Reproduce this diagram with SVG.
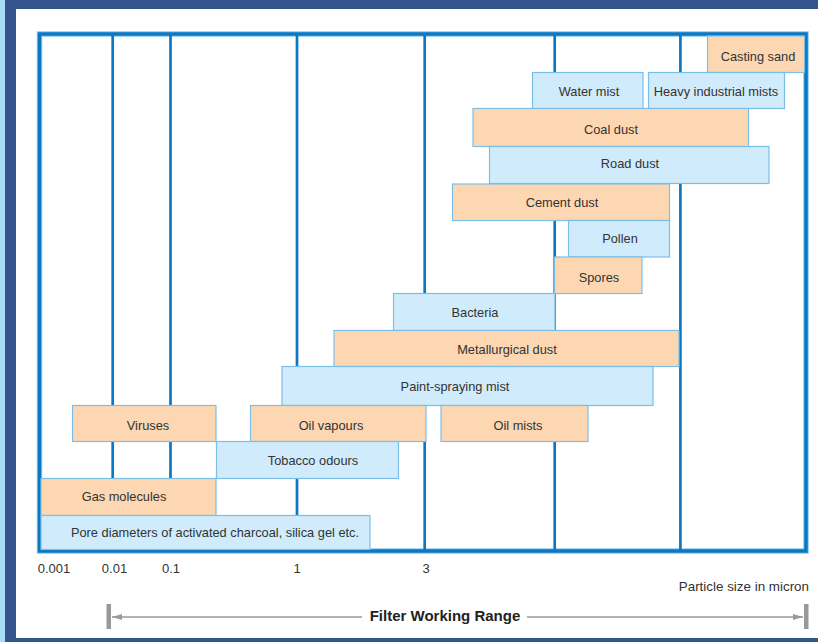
<svg xmlns="http://www.w3.org/2000/svg" width="818" height="642" viewBox="0 0 818 642">
<style>
.bar{stroke:#7cbfe6;stroke-width:1.2}
.o{fill:#fdd7b2}
.b{fill:#d0ebfb}
.lbl{font-family:"Liberation Sans",Arial,sans-serif;font-size:12.8px;fill:#333;text-anchor:middle}
.ax{font-family:"Liberation Sans",Arial,sans-serif;font-size:13px;fill:#333;text-anchor:middle}
.grid{stroke:#0a78c2;stroke-width:2.7}
</style>
<defs>
<marker id="ah" viewBox="0 0 10 6" refX="10" refY="3" markerWidth="10" markerHeight="6" markerUnits="userSpaceOnUse" orient="auto-start-reverse">
<path d="M0,0 L10,3 L0,6 z" fill="#999"/>
</marker>
</defs>
<rect width="818" height="642" fill="#fff"/>
<g id="page-frame">
<rect x="0" y="0" width="5" height="642" fill="#a9dcf6"/>
<rect x="5" y="0" width="11" height="642" fill="#34548c"/>
<rect x="5" y="0" width="813" height="9" fill="#34548c"/>
<rect x="5" y="638" width="813" height="4" fill="#34548c"/>
</g>
<g id="chart-frame">
<rect x="39.5" y="34" width="766.5" height="517" fill="none" stroke="#8cc8ec" stroke-width="5.5"/>
<rect x="39.5" y="34" width="766.5" height="517" fill="none" stroke="#0a78c2" stroke-width="3.5"/>
<line class="grid" x1="112.7" y1="34" x2="112.7" y2="551"/>
<line class="grid" x1="170.5" y1="34" x2="170.5" y2="551"/>
<line class="grid" x1="297" y1="34" x2="297" y2="551"/>
<line class="grid" x1="424.7" y1="34" x2="424.7" y2="551"/>
<line class="grid" x1="554.7" y1="34" x2="554.7" y2="551"/>
<line class="grid" x1="680.4" y1="34" x2="680.4" y2="551"/>
</g>
<g id="casting-sand"><rect class="bar o" x="707.5" y="36" width="97" height="36.5"/><text class="lbl" x="758" y="60.5">Casting sand</text></g>
<g id="water-mist"><rect class="bar b" x="532.5" y="72.5" width="110.5" height="36"/><text class="lbl" x="589" y="95.5">Water mist</text></g>
<g id="heavy-industrial-mists"><rect class="bar b" x="648.5" y="72.5" width="136" height="36"/><text class="lbl" x="716" y="95.5">Heavy industrial mists</text></g>
<g id="coal-dust"><rect class="bar o" x="473" y="108.5" width="275.5" height="38"/><text class="lbl" x="611" y="133.5">Coal dust</text></g>
<g id="road-dust"><rect class="bar b" x="489.5" y="146.5" width="279.5" height="37"/><text class="lbl" x="630" y="167.5">Road dust</text></g>
<g id="cement-dust"><rect class="bar o" x="452.5" y="184" width="217" height="36.5"/><text class="lbl" x="562" y="206.5">Cement dust</text></g>
<g id="pollen"><rect class="bar b" x="568.5" y="220.5" width="101" height="36.5"/><text class="lbl" x="620" y="242.5">Pollen</text></g>
<g id="spores"><rect class="bar o" x="554.5" y="257" width="87.5" height="36.5"/><text class="lbl" x="599" y="281.5">Spores</text></g>
<g id="bacteria"><rect class="bar b" x="393.5" y="293.5" width="161.5" height="37"/><text class="lbl" x="475" y="316.5">Bacteria</text></g>
<g id="metallurgical-dust"><rect class="bar o" x="334" y="330.5" width="345" height="36"/><text class="lbl" x="507" y="353.5">Metallurgical dust</text></g>
<g id="paint-spraying-mist"><rect class="bar b" x="282" y="366.5" width="371" height="39"/><text class="lbl" x="455" y="390.5">Paint-spraying mist</text></g>
<g id="viruses"><rect class="bar o" x="72.5" y="405.5" width="143.5" height="36"/><text class="lbl" x="148" y="429.5">Viruses</text></g>
<g id="oil-vapours"><rect class="bar o" x="250.5" y="405.5" width="175.5" height="36"/><text class="lbl" x="331" y="429.5">Oil vapours</text></g>
<g id="oil-mists"><rect class="bar o" x="441" y="405.5" width="147" height="36"/><text class="lbl" x="518" y="429.5">Oil mists</text></g>
<g id="tobacco-odours"><rect class="bar b" x="216.5" y="441.5" width="182" height="37"/><text class="lbl" x="313" y="464.5">Tobacco odours</text></g>
<g id="gas-molecules"><rect class="bar o" x="41" y="478.5" width="175" height="37"/><text class="lbl" x="124" y="500.5">Gas molecules</text></g>
<g id="pore-diameters"><rect class="bar b" x="41" y="515.5" width="329" height="34"/><text class="lbl" x="215" y="536.5">Pore diameters of activated charcoal, silica gel etc.</text></g>
<g id="axis-labels">
<text class="ax" x="54" y="573">0.001</text>
<text class="ax" x="114.5" y="573">0.01</text>
<text class="ax" x="171" y="573">0.1</text>
<text class="ax" x="297" y="573">1</text>
<text class="ax" x="426" y="573">3</text>
<text class="lbl" x="809" y="591" style="text-anchor:end;font-size:13.4px">Particle size in micron</text>
</g>
<g id="connectors">
<rect x="106.5" y="604" width="4.5" height="25" fill="#999"/>
<rect x="804" y="604" width="4.5" height="25" fill="#999"/>
<line x1="112" y1="617" x2="362" y2="617" stroke="#999" stroke-width="1.5" marker-start="url(#ah)"/>
<line x1="527" y1="617" x2="803" y2="617" stroke="#999" stroke-width="1.5" marker-end="url(#ah)"/>
</g>
<g id="filter-range-label">
<text x="445" y="621" style="font-family:'Liberation Sans',Arial,sans-serif;font-size:15px;font-weight:bold;fill:#222;text-anchor:middle">Filter Working Range</text>
</g>
</svg>
